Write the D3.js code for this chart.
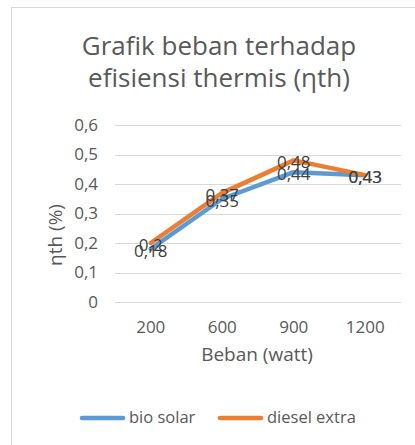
<!DOCTYPE html>
<html>
<head>
<meta charset="utf-8">
<script src="https://cdn.jsdelivr.net/npm/d3@7"></script>
<style>
  body { margin: 0; background: #fff; }
  text { font-family: "Open Sans", sans-serif; font-variant-ligatures: none; }
</style>
</head>
<body>
<div id="chart"></div>
<script>
// chart data
var categories = ["200", "600", "900", "1200"];
var bioSolar = [0.18, 0.35, 0.44, 0.43];
var dieselExtra = [0.2, 0.37, 0.48, 0.43];
var yTicks = [0, 0.1, 0.2, 0.3, 0.4, 0.5, 0.6];
var seriesNames = ["bio solar", "diesel extra"];
var colors = ["#5B9BD5", "#ED7D31"];

var w = 415, h = 445;
var fmt = function(d) { return String(d).replace(".", ","); };

var svg = d3.select("#chart").append("svg")
    .attr("width", w)
    .attr("height", h);

// chart frame
svg.append("rect")
    .attr("x", 11.5).attr("y", 7.5)
    .attr("width", 430).attr("height", 460)
    .attr("fill", "#fff")
    .attr("stroke", "#d9d9d9");

svg.append("text")
    .attr("x", 219).attr("y", 55)
    .attr("text-anchor", "middle")
    .attr("font-size", 26)
    .attr("fill", "#595959")
    .text("Grafik beban terhadap");
svg.append("text")
    .attr("x", 219).attr("y", 87)
    .attr("text-anchor", "middle")
    .attr("font-size", 26)
    .attr("fill", "#595959")
    .text("efisiensi thermis (ηth)");

var x = d3.scaleBand().domain(categories).range([115, 401]);
var y = d3.scaleLinear().domain([0, 0.6]).range([302, 125]);

// gridlines
svg.append("g").selectAll("line")
    .data(yTicks)
    .enter().append("line")
    .attr("x1", 115).attr("x2", 401)
    .attr("y1", function(d) { return Math.round(y(d)) + 0.5; })
    .attr("y2", function(d) { return Math.round(y(d)) + 0.5; })
    .attr("stroke", "#d9d9d9");

var yAxis = svg.append("g")
    .attr("transform", "translate(98,0)")
    .call(d3.axisLeft(y).tickValues(yTicks).tickFormat(fmt).tickSize(0).tickPadding(0));
yAxis.select(".domain").remove();
yAxis.selectAll("text").attr("font-size", 17).attr("fill", "#595959").attr("font-family", "Open Sans, sans-serif");

var xAxis = svg.append("g")
    .attr("transform", "translate(0,302)")
    .call(d3.axisBottom(x).tickSize(0).tickPadding(19));
xAxis.select(".domain").remove();
xAxis.selectAll("text").attr("font-size", 17).attr("fill", "#595959").attr("font-family", "Open Sans, sans-serif");

svg.append("text")
    .attr("x", 257).attr("y", 361)
    .attr("text-anchor", "middle")
    .attr("font-size", 19)
    .attr("fill", "#595959")
    .text("Beban (watt)");

svg.append("text")
    .attr("transform", "translate(62,235) rotate(-90)")
    .attr("text-anchor", "middle")
    .attr("font-size", 19)
    .attr("fill", "#595959")
    .text("ηth (%)");

var line = d3.line()
    .x(function(d, i) { return x(categories[i]) + x.bandwidth() / 2; })
    .y(function(d) { return y(d); });

var allSeries = [bioSolar, dieselExtra];

allSeries.forEach(function(s, k) {
  svg.append("path")
      .datum(s)
      .attr("d", line)
      .attr("fill", "none")
      .attr("stroke", colors[k])
      .attr("stroke-width", 4.5)
      .attr("stroke-linejoin", "round")
      .attr("stroke-linecap", "round");
});

allSeries.forEach(function(s, k) {
  svg.append("g").selectAll("text")
      .data(s)
      .enter().append("text")
      .attr("x", function(d, i) { return x(categories[i]) + x.bandwidth() / 2; })
      .attr("y", function(d) { return y(d) + 8; })
      .attr("text-anchor", "middle")
      .attr("font-size", 17)
      .attr("fill", "#404040")
      .text(fmt);
});

// legend
var legend = svg.append("g");
var lx = [82, 220];
seriesNames.forEach(function(n, k) {
  legend.append("line")
      .attr("x1", lx[k]).attr("x2", lx[k] + 41)
      .attr("y1", 418).attr("y2", 418)
      .attr("stroke", colors[k])
      .attr("stroke-width", 4.5)
      .attr("stroke-linecap", "round");
  legend.append("text")
      .attr("x", lx[k] + 47).attr("y", 423)
      .attr("font-size", 16.5)
      .attr("fill", "#595959")
      .text(n);
});
</script>
</body>
</html>
